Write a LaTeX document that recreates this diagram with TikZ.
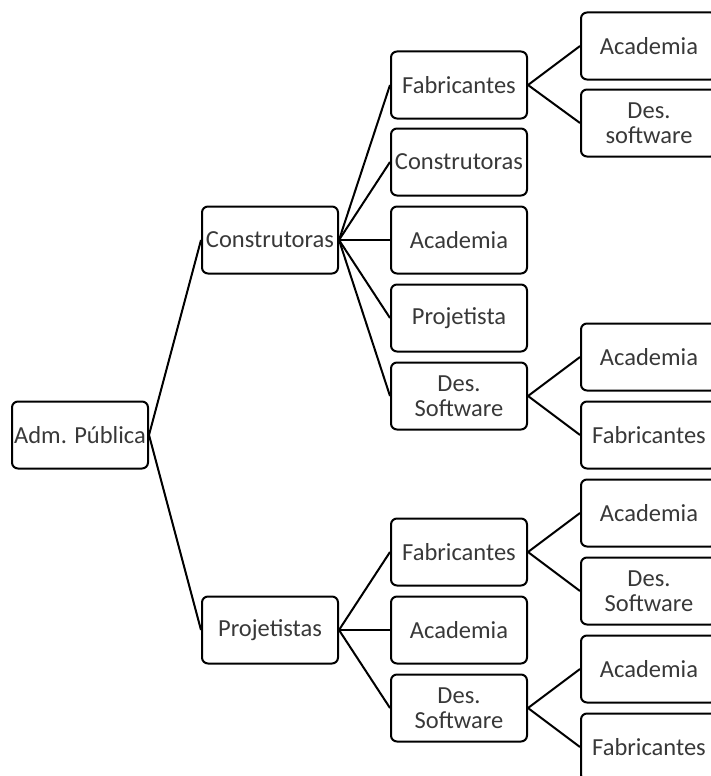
\documentclass[tikz,border=0pt]{standalone}
\usepackage{fontspec}
\setmainfont{Carlito}
\begin{document}
\begin{tikzpicture}[x=1pt,y=-1pt,
  box/.style={draw=black,line width=2pt,rounded corners=6pt,minimum width=136pt,minimum height=67pt,
    inner sep=0pt,align=center,text=black!78,font=\fontsize{24.5}{25}\selectfont},
  link/.style={draw=black,line width=2pt}]
\useasboundingbox (0,0) rectangle (711,776);
\clip (0,0) rectangle (711,776);
% level 0
\node[box] (a) at (80,435) {Adm. Pública};
% level 1
\node[box] (c) at (270,240) {Construtoras};
\node[box] (p) at (270,630) {Projetistas};
% level 2
\node[box] (c1) at (459,85) {Fabricantes};
\node[box] (c2) at (459,162) {Construtoras};
\node[box] (c3) at (459,240) {Academia};
\node[box] (c4) at (459,318) {Projetista};
\node[box] (c5) at (459,396) {Des.\\Software};
\node[box] (p1) at (459,552) {Fabricantes};
\node[box] (p2) at (459,630) {Academia};
\node[box] (p3) at (459,708) {Des.\\Software};
% level 3
\node[box] (c1a) at (649,46) {Academia};
\node[box] (c1b) at (649,123) {Des.\\software};
\node[box] (c5a) at (649,357) {Academia};
\node[box] (c5b) at (649,435) {Fabricantes};
\node[box] (p1a) at (649,513) {Academia};
\node[box] (p1b) at (649,591) {Des.\\Software};
\node[box] (p3a) at (649,669) {Academia};
\node[box] (p3b) at (649,747) {Fabricantes};
% connectors
\foreach \s/\t in {a/c,a/p,c/c1,c/c2,c/c3,c/c4,c/c5,p/p1,p/p2,p/p3,c1/c1a,c1/c1b,c5/c5a,c5/c5b,p1/p1a,p1/p1b,p3/p3a,p3/p3b}
  \draw[link] (\s.east) -- (\t.west);
\end{tikzpicture}
\end{document}
